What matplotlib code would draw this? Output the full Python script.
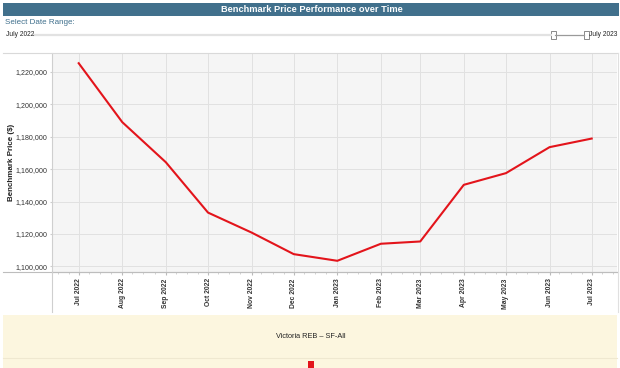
import matplotlib
matplotlib.use("Agg")
import matplotlib.pyplot as plt
import matplotlib.dates as mdates
from matplotlib.patches import Rectangle
from matplotlib.lines import Line2D
import datetime as dt

months = ["2022-07", "2022-08", "2022-09", "2022-10", "2022-11", "2022-12",
          "2023-01", "2023-02", "2023-03", "2023-04", "2023-05", "2023-06", "2023-07"]
prices = [1225200, 1188900, 1164200, 1133200, 1120900, 1107600,
          1103500, 1114000, 1115400, 1150300, 1157500, 1173500, 1178800]
yticks = [1100000, 1120000, 1140000, 1160000, 1180000, 1200000, 1220000]
series_name = "Victoria REB – SF-All"
title = "Benchmark Price Performance over Time"

dates = [dt.datetime.strptime(m, "%Y-%m") for m in months]

W, H = 620, 368
fig = plt.figure(figsize=(W / 100, H / 100), dpi=100)
fig.patch.set_facecolor("white")

def fx(px):
    return px / W

def fy(py):
    return 1 - py / H

# Title bar
fig.add_artist(Rectangle((fx(3), fy(16)), fx(616), 13 / H, transform=fig.transFigure,
                         facecolor="#41708c", edgecolor="none"))
fig.text(fx(312), fy(9.5), title, color="white", fontsize=6.7, fontweight="bold",
         ha="center", va="center", family="Liberation Sans")

# Date range selector
fig.text(fx(5), fy(23), "Select Date Range:", color="#3f6f8c", fontsize=5.8,
         ha="left", va="center", family="Liberation Sans")
fig.text(fx(6), fy(35), "July 2022", color="#222222", fontsize=4.8,
         ha="left", va="center", family="Liberation Sans")
fig.text(fx(589), fy(35), "July 2023", color="#222222", fontsize=4.8,
         ha="left", va="center", family="Liberation Sans")
fig.add_artist(Line2D([fx(34), fx(551)], [fy(35), fy(35)], transform=fig.transFigure,
                      color="#e2e2e2", lw=1.6))
fig.add_artist(Line2D([fx(555), fx(584)], [fy(35), fy(35)], transform=fig.transFigure,
                      color="#9a9a9a", lw=0.9))
for hx in (553, 586):
    fig.add_artist(Rectangle((fx(hx - 2.5), fy(38.5)), 5 / W, 7 / H, transform=fig.transFigure,
                             facecolor="white", edgecolor="#777777", lw=0.6))

# Horizontal rules across the chart panel
fig.add_artist(Line2D([fx(3), fx(618)], [fy(52.5), fy(52.5)], transform=fig.transFigure,
                      color="#d9d9d9", lw=0.8))
fig.add_artist(Line2D([fx(3), fx(618)], [fy(272), fy(272)], transform=fig.transFigure,
                      color="#bdbdbd", lw=0.8))
fig.add_artist(Line2D([fx(52), fx(52)], [fy(272), fy(312)], transform=fig.transFigure,
                      color="#cfcfcf", lw=0.8))
fig.add_artist(Line2D([fx(617.5), fx(617.5)], [fy(53), fy(312)], transform=fig.transFigure,
                      color="#e0e0e0", lw=0.8))

# Main axes
ax = fig.add_axes([fx(52), fy(272), fx(617) - fx(52), (272 - 53) / H])
ax.set_facecolor("#f5f5f5")
ax.plot(dates, prices, color="#e3141b", lw=1.5, solid_joinstyle="round", zorder=3)

ax.set_xlim(dt.datetime(2022, 6, 12), dt.datetime(2023, 7, 19))
ax.set_ylim(1096600, 1231500)
ax.set_yticks(yticks)
ax.set_yticklabels([f"{v:,}" for v in yticks], fontsize=5.1, color="#333333",
                   family="Liberation Sans")
ax.set_xticks(dates)
ax.set_xticklabels([d.strftime("%b %Y") for d in dates], rotation=90, fontsize=4.9,
                   fontweight="bold", color="#333333", family="Liberation Sans")
ax.xaxis.set_minor_locator(mdates.DayLocator(bymonthday=[8, 16, 24]))
ax.tick_params(axis="x", which="major", length=2, color="#bbbbbb", pad=2.5)
ax.tick_params(axis="x", which="minor", length=1.5, color="#cccccc")
ax.tick_params(axis="y", length=1.5, color="#cccccc", pad=1.5)
ax.grid(True, which="major", color="#e1e1e1", lw=0.7)
ax.set_axisbelow(True)
for s in ("top", "right"):
    ax.spines[s].set_visible(False)
ax.spines["left"].set_color("#cfcfcf")
ax.spines["bottom"].set_color("#bdbdbd")
ax.spines["left"].set_linewidth(0.8)
ax.spines["bottom"].set_linewidth(0.8)

fig.text(fx(12), fy(162), "Benchmark Price ($)", rotation=90, fontsize=5.8,
         fontweight="bold", color="#222222", ha="center", va="center",
         family="Liberation Sans")

# Legend panel
fig.add_artist(Rectangle((fx(3), 0), fx(614), (368 - 315) / H, transform=fig.transFigure,
                         facecolor="#fcf6df", edgecolor="none"))
fig.add_artist(Line2D([fx(3), fx(617)], [fy(358), fy(358)], transform=fig.transFigure,
                      color="#efe8d0", lw=0.8))
fig.text(fx(311), fy(337), series_name, fontsize=5.3, color="#222222",
         ha="center", va="center", family="Liberation Sans")
fig.add_artist(Rectangle((fx(308), 0), 6 / W, (368 - 361) / H, transform=fig.transFigure,
                         facecolor="#e3141b", edgecolor="none"))

fig.savefig("out.png", dpi=100)
